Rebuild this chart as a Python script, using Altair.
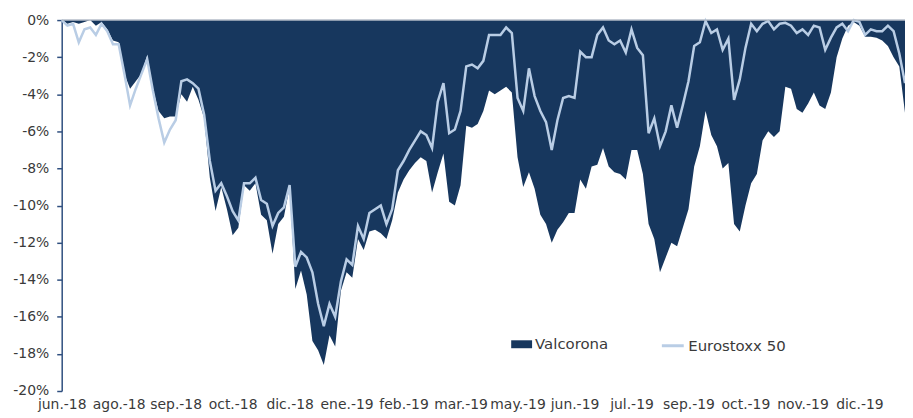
import altair as alt
import pandas as pd

month_labels = ['jun.-18', 'ago.-18', 'sep.-18', 'oct.-18', 'dic.-18', 'ene.-19', 'feb.-19',
                'mar.-19', 'may.-19', 'jun.-19', 'jul.-19', 'sep.-19', 'oct.-19', 'nov.-19', 'dic.-19']
points_per_label = 10

valcorona = [
    0.0, -0.2, -0.1, -0.2, -0.1, 0.0, -0.3, -0.1, -0.5, -1.1,
    -1.2, -2.9, -3.7, -3.3, -2.9, -1.9, -3.7, -4.9, -5.3, -5.2,
    -5.2, -4.0, -4.4, -3.6, -4.3, -5.3, -8.5, -10.3, -9.0, -10.2,
    -11.6, -11.2, -8.9, -9.2, -8.8, -10.5, -10.8, -12.6, -11.0, -10.6,
    -9.0, -14.5, -13.5, -14.8, -17.3, -17.8, -18.6, -17.0, -17.6, -14.6,
    -13.6, -13.9, -11.8, -12.4, -11.4, -11.3, -11.5, -11.8, -10.8, -9.3,
    -8.6, -8.1, -7.7, -7.4, -7.6, -9.3, -8.2, -7.2, -9.8, -10.0,
    -8.9, -5.7, -5.8, -5.6, -4.9, -3.8, -4.0, -3.8, -3.6, -3.9,
    -7.4, -9.0, -8.2, -9.1, -10.5, -11.0, -12.0, -11.3, -10.9, -10.4,
    -10.4, -8.6, -9.1, -7.9, -7.8, -6.9, -7.9, -8.2, -8.3, -8.6,
    -7.0, -7.0, -8.3, -11.0, -11.8, -13.6, -12.8, -12.0, -12.2, -11.2,
    -10.2, -7.9, -6.8, -4.9, -6.2, -6.8, -8.0, -7.7, -11.0, -11.4,
    -10.0, -8.8, -8.3, -6.5, -6.0, -6.3, -6.0, -3.6, -3.7, -4.8,
    -5.0, -4.5, -3.9, -4.6, -4.8, -3.9, -2.0, -1.0, -0.3, -0.1,
    -0.3, -0.9, -0.9, -0.95, -1.1, -1.4, -2.0, -2.5, -5.0,
]

eurostoxx = [
    0.0, -0.3, -0.2, -1.2, -0.5, -0.4, -0.8, -0.2, -0.6, -1.3,
    -1.3, -2.9, -4.6, -3.7, -2.9, -2.1, -3.8, -5.3, -6.6, -5.9,
    -5.4, -3.3, -3.2, -3.4, -3.7, -5.1, -7.6, -9.2, -8.8, -9.5,
    -10.3, -10.8, -8.8, -8.8, -8.5, -9.7, -9.9, -11.1, -10.4, -10.1,
    -8.9, -13.3, -12.5, -12.8, -13.6, -15.3, -16.5, -15.3, -16.0, -14.1,
    -12.9, -13.2, -11.1, -11.8, -10.4, -10.2, -10.0, -11.0, -10.2, -8.1,
    -7.6, -7.0, -6.5, -6.0, -6.2, -6.9, -4.4, -3.4, -6.1, -5.9,
    -4.9, -2.5, -2.4, -2.6, -2.2, -0.8, -0.8, -0.8, -0.4, -0.7,
    -4.2, -4.9, -2.6, -4.1, -4.9, -5.5, -7.0, -5.4, -4.2, -4.1,
    -4.2, -1.7, -2.0, -2.0, -0.8, -0.4, -1.1, -1.3, -1.1, -1.75,
    -0.5, -1.5, -1.9, -6.1, -5.3, -6.8, -6.0, -4.6, -5.8, -4.6,
    -3.3, -1.4, -1.2, -0.05, -0.7, -0.5, -1.6, -1.0, -4.3, -3.2,
    -1.5, -0.2, -0.6, -0.2, -0.05, -0.5, -0.2, -0.15, -0.3, -0.7,
    -0.5, -0.8, -0.3, -0.4, -1.6, -0.95, -0.4, -0.2, -0.6, 0.0,
    -0.1, -0.8, -0.5, -0.6, -0.6, -0.3, -0.6, -1.8, -3.4,
]

y_ticks = list(range(-20, 1, 2))

NAVY = '#17375E'
LIGHT = '#B9CDE5'
TEXT = '#3A3A3A'
AXIS_BLUE = '#2F4F7F'
FONT = 'DejaVu Sans'

df_v = pd.DataFrame({'i': range(len(valcorona)), 'value': valcorona, 'serie': 'Valcorona'})
df_e = pd.DataFrame({'i': range(len(eurostoxx)), 'value': eurostoxx, 'serie': 'Eurostoxx 50'})

n_last = len(valcorona) - 1
label_array = '[' + ','.join("'" + m + "'" for m in month_labels) + ']'

x_scale = alt.Scale(domain=[0, n_last], nice=False, zero=False)
x_axis = alt.Axis(values=[k * points_per_label for k in range(len(month_labels))],
                  labelExpr=f"{label_array}[round(datum.value/{points_per_label})]",
                  domain=False, ticks=False, grid=False, title=None,
                  labelFont=FONT, labelFontSize=14, labelColor=TEXT,
                  labelPadding=7, labelOverlap=False, labelFlush=False)

y_scale = alt.Scale(domain=[-20, 0], nice=False)
y_axis = alt.Axis(values=y_ticks, labelExpr="datum.value + '%'", grid=False, title=None,
                  domain=True, domainColor=AXIS_BLUE, domainWidth=1.5,
                  ticks=True, tickColor=AXIS_BLUE, tickSize=5, tickWidth=1.5,
                  labelOverlap=False, labelFlush=False, labelSeparation=0,
                  labelFont=FONT, labelFontSize=14, labelColor=TEXT, labelPadding=8)

area = alt.Chart(df_v).mark_area(interpolate='linear').encode(
    x=alt.X('i:Q', scale=x_scale, axis=x_axis),
    y=alt.Y('value:Q', scale=y_scale, axis=y_axis),
    y2=alt.datum(0),
    fill=alt.Fill('serie:N', scale=alt.Scale(domain=['Valcorona'], range=[NAVY]),
                  legend=alt.Legend(orient='none', legendX=452, legendY=315.5, title=None,
                                    symbolType='M-1,-0.38H1V0.38H-1Z', symbolSize=441,
                                    symbolStrokeWidth=0, labelFont=FONT, labelFontSize=15,
                                    labelColor=TEXT, labelOffset=3, padding=0))
)

line = alt.Chart(df_e).mark_line(strokeWidth=2.5, interpolate='linear').encode(
    x=alt.X('i:Q', scale=x_scale, axis=x_axis),
    y=alt.Y('value:Q', scale=y_scale, axis=y_axis),
    stroke=alt.Stroke('serie:N', scale=alt.Scale(domain=['Eurostoxx 50'], range=[LIGHT]),
                      legend=alt.Legend(orient='none', legendX=602, legendY=315, title=None,
                                        symbolType='stroke', symbolSize=484, symbolStrokeWidth=3,
                                        labelFont=FONT, labelFontSize=15, labelColor=TEXT,
                                        labelOffset=3, padding=0))
)

zero_rule = alt.Chart(pd.DataFrame({'v': [0]})).mark_rule(color='#B4BCC8', strokeWidth=1.5).encode(
    y=alt.Y('v:Q', scale=y_scale, axis=y_axis)
)

chart = alt.layer(area, line, zero_rule).properties(
    width=848, height=373,
    autosize=alt.AutoSizeParams(type='none'),
    padding={'left': 54, 'top': 11, 'right': 0, 'bottom': 24},
).configure_view(stroke=None).configure_axis(labelOverlap=False, labelSeparation=0)

chart.save('out.html', embed_options={'renderer': 'svg', 'actions': False})
